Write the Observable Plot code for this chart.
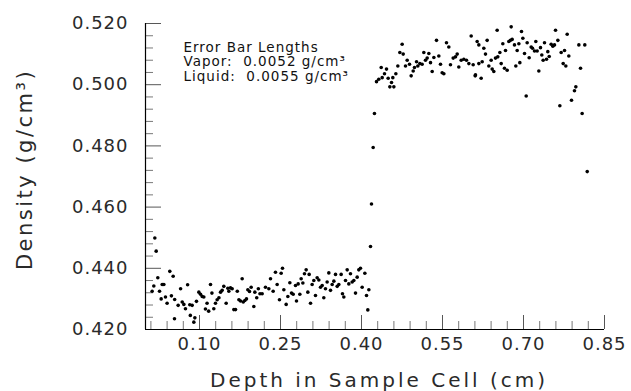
<!DOCTYPE html>
<html>
<head>
<meta charset="utf-8">
<script src="https://cdn.jsdelivr.net/npm/d3@7"></script>
<script src="https://cdn.jsdelivr.net/npm/@observablehq/plot@0.6"></script>
<style>
  html, body { margin: 0; padding: 0; background: #fff; }
  #chart svg { display: block; }
</style>
</head>
<body>
<div id="chart"></div>
<script>
// ---- data ----
const depth = [
  0.0123,0.0154,0.0173,0.0198,0.0228,0.0260,0.0290,0.0309,0.0340,0.0370,
  0.0400,0.0450,0.0480,0.0512,0.0537,0.0540,0.0605,0.0650,0.0680,0.0710,
  0.0740,0.0780,0.0820,0.0830,0.0864,0.0895,0.0914,0.0944,0.0988,0.1019,
  0.1050,0.1080,0.1110,0.1140,0.1170,0.1204,0.1230,0.1265,0.1296,0.1327,
  0.1360,0.1390,0.1420,0.1450,0.1494,0.1525,0.1543,0.1574,0.1605,0.1636,
  0.1667,0.1700,0.1730,0.1760,0.1790,0.1810,0.1840,0.1870,0.1895,0.1926,
  0.1957,0.2006,0.2025,0.2060,0.2090,0.2120,
  0.2160,0.2222,0.2284,0.2315,0.2364,0.2407,0.2438,0.2481,0.2512,0.2537,
  0.2562,0.2605,0.2636,0.2673,0.2704,0.2735,0.2778,0.2796,0.2827,0.2858,
  0.2883,0.2914,0.2944,0.2975,0.3006,0.3031,0.3056,0.3086,0.3117,0.3148,
  0.3179,0.3210,0.3241,0.3272,0.3302,0.3333,0.3364,0.3395,0.3426,0.3457,
  0.3488,0.3519,0.3550,0.3580,0.3623,0.3648,0.3673,0.3704,0.3735,0.3765,
  0.3796,0.3827,0.3858,0.3889,0.3920,0.3950,0.3981,0.4012,0.4062,0.4093,
  0.4117,0.4136,0.4167,0.4185,0.4216,0.4240,
  0.4278,0.4320,0.4365,0.4383,0.4426,0.4463,0.4494,0.4525,0.4556,0.4580,
  0.4599,0.4636,0.4673,0.4710,0.4753,0.4772,0.4815,0.4846,0.4889,0.4920,
  0.4957,0.4981,0.5019,0.5043,0.5080,0.5123,0.5154,0.5185,0.5216,0.5247,
  0.5278,0.5309,0.5340,0.5389,0.5432,0.5463,0.5494,0.5525,0.5574,0.5617,
  0.5648,0.5698,0.5741,0.5772,0.5802,0.5846,0.5895,0.5944,0.5988,0.6031,
  0.6068,0.6105,0.6111,0.6142,0.6173,0.6173,0.6216,0.6235,0.6265,0.6296,
  0.6327,0.6358,0.6401,0.6420,0.6450,0.6481,0.6512,0.6524,0.6562,0.6587,
  0.6617,0.6648,0.6667,0.6698,0.6728,0.6759,0.6772,0.6790,0.6833,0.6858,
  0.6883,0.6914,0.6932,0.6963,0.6988,0.7019,0.7050,0.7068,0.7105,0.7142,
  0.7167,0.7204,0.7228,0.7253,0.7284,0.7315,0.7339,0.7364,0.7389,0.7426,
  0.7450,0.7476,0.7512,0.7543,0.7574,0.7593,0.7636,0.7673,0.7698,0.7735,
  0.7760,0.7784,0.7809,0.7839,0.7889,0.7944,0.7969,0.8025,0.8056,0.8086,
  0.8135,0.8180
];
const density = [
  0.4325,0.4342,0.4499,0.4456,0.4369,0.4325,0.4300,0.4347,0.4347,0.4306,
  0.4286,0.4390,0.4310,0.4374,0.4235,0.4298,0.4279,0.4333,0.4290,0.4282,
  0.4268,0.4346,0.4281,0.4246,0.4279,0.4224,0.4238,0.4292,0.4322,0.4315,
  0.4308,0.4306,0.4267,0.4286,0.4260,0.4347,0.4319,0.4268,0.4286,0.4297,
  0.4304,0.4322,0.4328,0.4341,0.4286,0.4335,0.4325,0.4336,0.4333,0.4265,
  0.4265,0.4325,0.4297,0.4293,0.4366,0.4290,0.4295,0.4300,0.4330,0.4324,
  0.4338,0.4275,0.4322,0.4304,0.4333,0.4317,
  0.4317,0.4338,0.4333,0.4366,0.4325,0.4387,0.4347,0.4297,0.4384,0.4400,
  0.4330,0.4282,0.4308,0.4353,0.4319,0.4315,0.4344,0.4293,0.4349,0.4315,
  0.4366,0.4352,0.4382,0.4395,0.4322,0.4380,0.4286,0.4347,0.4360,0.4311,
  0.4369,0.4362,0.4338,0.4344,0.4304,0.4333,0.4355,0.4385,0.4328,0.4347,
  0.4358,0.4380,0.4341,0.4347,0.4380,0.4317,0.4306,0.4360,0.4395,0.4349,
  0.4382,0.4355,0.4360,0.4319,0.4371,0.4395,0.4400,0.4338,0.4384,0.4311,
  0.4264,0.4330,0.4471,0.4610,0.4795,0.4906,
  0.5010,0.5018,0.5056,0.5023,0.5036,0.5051,0.5021,0.4993,0.5007,0.5023,
  0.4993,0.5036,0.5061,0.5105,0.5132,0.5100,0.5061,0.5080,0.5067,0.5029,
  0.5045,0.5056,0.5075,0.5061,0.5069,0.5067,0.5105,0.5080,0.5087,0.5102,
  0.5072,0.5043,0.5089,0.5145,0.5094,0.5067,0.5039,0.5036,0.5137,0.5123,
  0.5065,0.5087,0.5091,0.5100,0.5058,0.5080,0.5083,0.5080,0.5069,0.5159,
  0.5065,0.5029,0.5032,0.5141,0.5130,0.5069,0.5021,0.5075,0.5119,0.5100,
  0.5145,0.5061,0.5080,0.5051,0.5043,0.5087,0.5178,0.5091,0.5105,0.5069,
  0.5134,0.5054,0.5112,0.5047,0.5141,0.5145,0.5189,0.5148,0.5130,0.5061,
  0.5112,0.5134,0.5072,0.5174,0.5152,0.5102,0.4963,0.5137,0.5088,0.5123,
  0.5119,0.5110,0.5141,0.5110,0.5045,0.5121,0.5097,0.5080,0.5137,0.5083,
  0.5108,0.5092,0.5132,0.5126,0.5130,0.5178,0.5145,0.4931,0.5105,0.5069,
  0.5112,0.5061,0.5165,0.5094,0.4949,0.4980,0.4993,0.5130,0.5054,0.4906,
  0.5130,0.4716
];

const xDomain = [0, 0.85];
const yDomain = [0.42, 0.52];
const xTickLabels = [0.10, 0.25, 0.40, 0.55, 0.70, 0.85];
const xMinorTicks = [0.01, 0.04, 0.07, 0.13, 0.16, 0.19, 0.22, 0.28, 0.31, 0.34, 0.37,
                     0.43, 0.46, 0.49, 0.52, 0.58, 0.61, 0.64, 0.67, 0.73, 0.76, 0.79, 0.82];
const yTickLabels = [0.42, 0.44, 0.46, 0.48, 0.50, 0.52];
const yMinorTicks = [0.424, 0.428, 0.432, 0.436, 0.444, 0.448, 0.452, 0.456,
                     0.464, 0.468, 0.472, 0.476, 0.484, 0.488, 0.492, 0.496,
                     0.504, 0.508, 0.512, 0.516];
const xTitle = "Depth in Sample Cell (cm)";
const yTitle = "Density (g/cm³)";
const legendLines = ["Error Bar Lengths", "Vapor:  0.0052 g/cm³", "Liquid:  0.0055 g/cm³"];

const points = depth.map((d, i) => ({depth: d, density: density[i]}));

const FONT = "'DejaVu Sans', sans-serif";
const INK = "#2a2a2a";
const W = 631, H = 391, ML = 145, MR = 27, MT = 23, MB = 62;
const frameW = W - ML - MR, frameH = H - MT - MB;

const chart = Plot.plot({
  width: W,
  height: H,
  marginLeft: ML,
  marginRight: MR,
  marginTop: MT,
  marginBottom: MB,
  style: {background: "#fff", fontFamily: FONT, color: INK},
  x: {domain: xDomain, label: null},
  y: {domain: yDomain, label: null},
  marks: [
    // inward tick marks
    Plot.tickX(xMinorTicks, {x: d => d, insetTop: frameH - 8, stroke: "#555", strokeWidth: 0.8}),
    Plot.tickX(xTickLabels, {x: d => d, insetTop: frameH - 14, stroke: "#444", strokeWidth: 0.9}),
    Plot.tickY(yMinorTicks, {y: d => d, insetRight: frameW - 8, stroke: "#555", strokeWidth: 0.8}),
    Plot.tickY(yTickLabels, {y: d => d, insetRight: frameW - 16, stroke: "#444", strokeWidth: 0.9}),
    // tick labels (+ y title as axis label)
    Plot.axisX({ticks: xTickLabels, tickSize: 0, tickPadding: 8, tickFormat: d3.format(".2f"), label: null,
                fontSize: 18, fill: INK}),
    Plot.axisY({ticks: yTickLabels, tickSize: 0, tickPadding: 17, tickFormat: d3.format(".3f"),
                label: yTitle, labelAnchor: "center", labelArrow: "none", labelOffset: 128,
                fontSize: 18, fill: INK}),
    // axis lines
    Plot.ruleX([xDomain[0]], {stroke: "#000", strokeWidth: 1.2}),
    Plot.ruleY([yDomain[0]], {stroke: "#000", strokeWidth: 1.2}),
    // data
    Plot.dot(points, {x: "depth", y: "density", r: 1.8, fill: "#000", stroke: null}),
    // x title
    Plot.text([xTitle], {frameAnchor: "bottom", dx: 4, dy: 57, lineAnchor: "bottom",
                         fontSize: 20, fill: INK}),
    // legend text
    ...legendLines.map((t, i) => Plot.text([t], {frameAnchor: "top-left", dx: 38, dy: 28 + i * 14.5,
                         lineAnchor: "bottom", textAnchor: "start", fontSize: 13.5, fill: "#111"}))
  ]
});

document.getElementById("chart").appendChild(chart);
// wide plotter-style lettering
const svg = d3.select(chart);
svg.selectAll("text").style("letter-spacing", "1px");
svg.selectAll('[aria-label="text"] text').filter(function() { return this.textContent === xTitle; })
   .style("letter-spacing", "3px");
svg.selectAll('[aria-label="y-axis label"] text')
   .style("font-size", "21px").style("letter-spacing", "2.5px")
   .attr("transform", function() { return "translate(0,-7) " + (this.getAttribute("transform") || ""); });
</script>
</body>
</html>
